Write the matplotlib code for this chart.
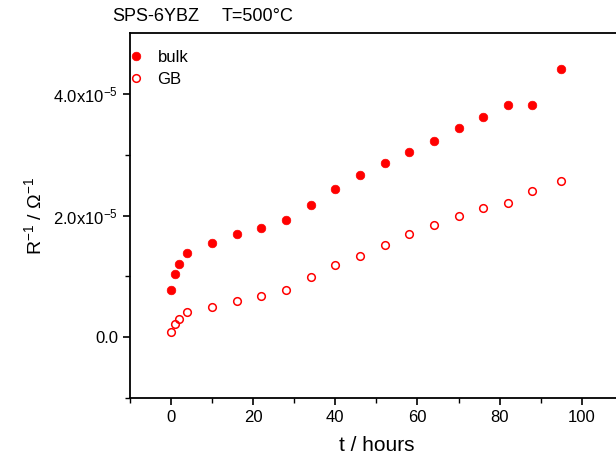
import matplotlib.pyplot as plt
import numpy as np

plt.rcParams['font.family'] = ['Liberation Sans', 'DejaVu Sans']
plt.rcParams['mathtext.fontset'] = 'custom'
plt.rcParams['mathtext.rm'] = 'Liberation Sans'
plt.rcParams['mathtext.it'] = 'Liberation Sans:italic'

# time in hours
t = [0, 1, 2, 4, 10, 16, 22, 28, 34, 40, 46, 52, 58, 64, 70, 76, 82, 88, 95]
# inverse resistances (1/Ohm)
bulk = [0.78e-5, 1.04e-5, 1.21e-5, 1.39e-5, 1.55e-5, 1.69e-5, 1.79e-5, 1.93e-5,
        2.18e-5, 2.43e-5, 2.66e-5, 2.86e-5, 3.04e-5, 3.22e-5, 3.44e-5, 3.62e-5,
        3.82e-5, 3.82e-5, 4.41e-5]
gb = [0.08e-5, 0.21e-5, 0.30e-5, 0.41e-5, 0.50e-5, 0.59e-5, 0.68e-5, 0.78e-5,
      0.99e-5, 1.19e-5, 1.34e-5, 1.52e-5, 1.70e-5, 1.85e-5, 2.00e-5, 2.13e-5,
      2.21e-5, 2.41e-5, 2.56e-5]

yticks = [0.0, 2.0e-5, 4.0e-5]
yticklabels = ['0.0', r'2.0x10$^{\mathrm{-5}}$', r'4.0x10$^{\mathrm{-5}}$']

fig = plt.figure(figsize=(6.16, 4.61), dpi=100)
ax = fig.add_axes([0.211, 0.137, 0.80, 0.791])

ax.plot(t, bulk, 'o', color='red', markersize=6.2, markeredgewidth=0.5, label='bulk')
ax.plot(t, gb, 'o', markerfacecolor='none', markeredgecolor='red',
        markeredgewidth=1.1, markersize=5.5, label='GB')

ax.set_xlim(-10, 110)
ax.set_ylim(-1e-5, 5e-5)
ax.set_xticks([0, 20, 40, 60, 80, 100])
ax.set_xticks(np.arange(-10, 111, 20), minor=True)
ax.set_yticks(yticks)
ax.set_yticklabels(yticklabels)
ax.set_yticks([-1e-5, 1e-5, 3e-5], minor=True)
ax.tick_params(which='major', direction='out', length=5, width=1.2, labelsize=12,
               top=False, right=False)
ax.tick_params(which='minor', direction='out', length=3.5, width=1.0,
               top=False, right=False)
for s in ['left', 'bottom', 'top']:
    ax.spines[s].set_linewidth(1.3)
ax.spines['right'].set_visible(False)

ax.set_xlabel('t / hours', fontsize=15, labelpad=8)
ax.set_ylabel(r'R$^{\mathrm{-1}}$ / $\Omega^{\mathrm{-1}}$', fontsize=14, labelpad=6)

ax.legend(loc='upper left', bbox_to_anchor=(-0.005, 0.955), frameon=False,
          fontsize=12, handlelength=1.0, handletextpad=0.8,
          borderpad=0, borderaxespad=0, labelspacing=0.45)

fig.text(0.182, 0.955, 'SPS-6YBZ', fontsize=13)
fig.text(0.36, 0.955, 'T=500°C', fontsize=13)

plt.savefig('out.png', dpi=100)
